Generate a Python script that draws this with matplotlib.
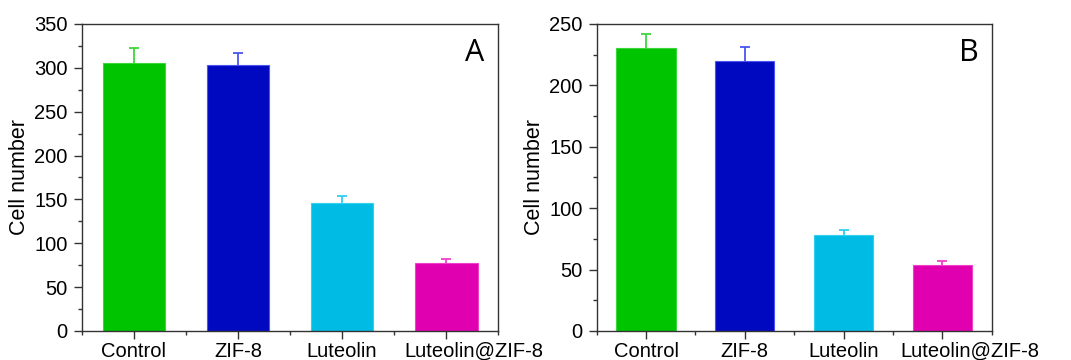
import matplotlib
matplotlib.use("Agg")
import matplotlib.pyplot as plt
import matplotlib.transforms as mtransforms
from matplotlib.ticker import MultipleLocator

plt.rcParams['font.family'] = ['Liberation Sans', 'DejaVu Sans']

groups = ["Control", "ZIF-8", "Luteolin", "Luteolin@ZIF-8"]
cells_a = [306, 303, 146, 77]
err_a = [16, 14, 8, 5]
cells_b = [230, 220, 78, 54]
err_b = [12, 11, 4, 3]

bar_colors = ["#00C400", "#0009C0", "#00BCE4", "#E000B0"]
err_colors = ["#3CD63C", "#4A55F0", "#30D0F0", "#F040C8"]

fig = plt.figure(figsize=(10.71, 3.6), dpi=100)
ax_a = fig.add_axes([0.0763, 0.0806, 0.389, 0.853])
ax_b = fig.add_axes([0.5571, 0.0806, 0.3688, 0.853])


def draw_panel(ax, vals, errs, ymax, ystep, letter):
    x = range(1, len(groups) + 1)
    ax.bar(x, vals, width=0.6, color=bar_colors, edgecolor=err_colors, linewidth=0.8, zorder=2)
    for xi, v, e, c in zip(x, vals, errs, err_colors):
        eb = ax.errorbar(xi, v, yerr=[[0], [e]], fmt='none', ecolor=c,
                         elinewidth=1.3, capsize=3.5, capthick=1.3, zorder=3)
        # only the upper cap is shown
        eb.lines[1][0].set_visible(False)
    ax.set_xlim(0.5, 4.5)
    ax.set_ylim(0, ymax)
    ax.set_xticks(list(x))
    ax.set_xticklabels(groups)
    ax.xaxis.set_minor_locator(MultipleLocator(0.5))
    ax.yaxis.set_major_locator(MultipleLocator(ystep))
    ax.yaxis.set_minor_locator(MultipleLocator(ystep / 2))
    ax.tick_params(axis='both', which='major', direction='out', length=6,
                   width=1, labelsize=14.5, color='#333333')
    ax.tick_params(axis='both', which='minor', direction='out', length=3,
                   width=1, color='#333333')
    ax.tick_params(axis='x', pad=2)
    ax.tick_params(axis='y', pad=4)
    # last label is nudged right so it does not run into "Luteolin"
    last = ax.get_xticklabels()[-1]
    last.set_transform(last.get_transform() +
                       mtransforms.ScaledTranslation(0.28, 0, fig.dpi_scale_trans))
    for s in ax.spines.values():
        s.set_color('#333333')
        s.set_linewidth(1)
    ax.set_ylabel("Cell number", fontsize=15.5, labelpad=3)
    ax.text(0.942, 0.905, letter, transform=ax.transAxes, fontsize=22,
            family=['Open Sans', 'DejaVu Sans'], ha='center', va='center')


draw_panel(ax_a, cells_a, err_a, 350, 50, "A")
draw_panel(ax_b, cells_b, err_b, 250, 50, "B")

fig.savefig("out.png", dpi=100)
